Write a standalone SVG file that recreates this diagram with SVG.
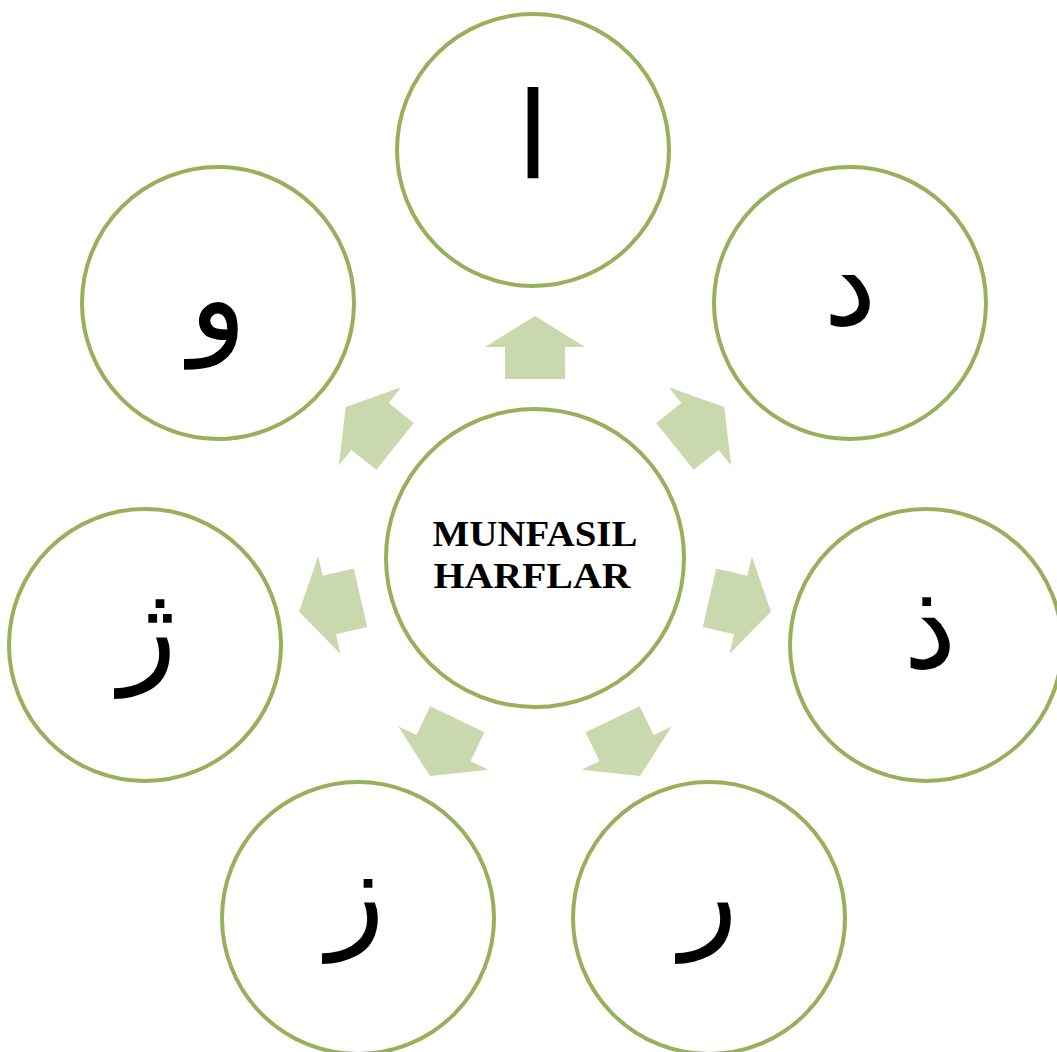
<svg xmlns="http://www.w3.org/2000/svg" width="1057" height="1052" viewBox="0 0 1057 1052">
<defs>
<style>
.node{fill:#ffffff;stroke:#96b05b;stroke-width:4}
.arr{fill:#c9d8ad}
.ar{font-family:"DejaVu Sans",sans-serif;font-size:120px;fill:#000;text-anchor:middle}
.lbl{font-family:"Liberation Serif",serif;font-weight:bold;font-size:35px;fill:#000;text-anchor:middle}
</style>
<polygon id="arrow" points="-30,0 30,0 30,-32 50,-32 0,-63 -50,-32 -30,-32"/>
</defs>
<rect width="1057" height="1052" fill="#ffffff"/>
<g id="connectors">
<use href="#arrow" class="arr" transform="translate(535,558) rotate(0) translate(0,-179)"/>
<use href="#arrow" class="arr" transform="translate(535,558) rotate(51.43) translate(0,-179)"/>
<use href="#arrow" class="arr" transform="translate(535,558) rotate(102.86) translate(0,-179)"/>
<use href="#arrow" class="arr" transform="translate(535,558) rotate(154.29) translate(0,-179)"/>
<use href="#arrow" class="arr" transform="translate(535,558) rotate(205.71) translate(0,-179)"/>
<use href="#arrow" class="arr" transform="translate(535,558) rotate(257.14) translate(0,-179)"/>
<use href="#arrow" class="arr" transform="translate(535,558) rotate(308.57) translate(0,-179)"/>
</g>
<g id="center">
<circle class="node" cx="535" cy="558" r="149"/>
<text class="lbl" x="535" y="546" textLength="205" lengthAdjust="spacingAndGlyphs">MUNFASIL</text>
<text class="lbl" x="532" y="588" textLength="197" lengthAdjust="spacingAndGlyphs">HARFLAR</text>
</g>
<g id="n-alif">
<circle class="node" cx="533" cy="150" r="136"/>
<text class="ar" x="533" y="178">ا</text>
</g>
<g id="n-dal">
<circle class="node" cx="850" cy="303" r="136"/>
<text class="ar" x="850" y="325">د</text>
</g>
<g id="n-dhal">
<circle class="node" cx="926" cy="645" r="136"/>
<text class="ar" x="930" y="668">ذ</text>
</g>
<g id="n-ra">
<circle class="node" cx="709" cy="918" r="136"/>
<text class="ar" x="709" y="935">ر</text>
</g>
<g id="n-zay">
<circle class="node" cx="358" cy="918" r="136"/>
<text class="ar" x="356" y="935">ز</text>
</g>
<g id="n-zhe">
<circle class="node" cx="145" cy="645" r="136"/>
<text class="ar" x="148" y="670">ژ</text>
</g>
<g id="n-waw">
<circle class="node" cx="218" cy="303" r="136"/>
<text class="ar" x="218" y="340">و</text>
</g>
</svg>
